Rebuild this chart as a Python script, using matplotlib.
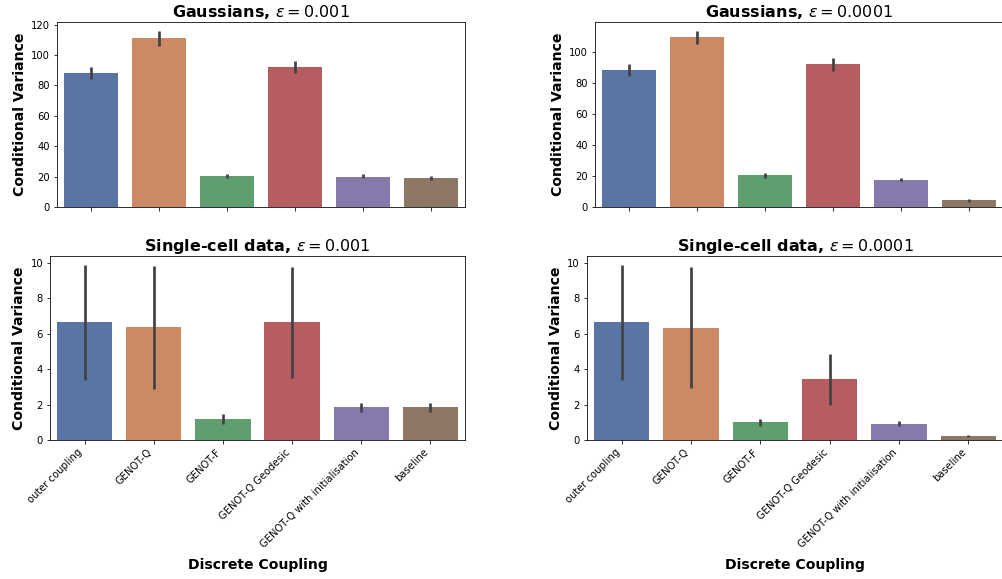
import matplotlib
matplotlib.use("Agg")
import matplotlib.pyplot as plt
import seaborn as sns

couplings = ["outer coupling", "GENOT-Q", "GENOT-F", "GENOT-Q Geodesic",
             "GENOT-Q with initialisation", "baseline"]

# mean conditional variance and the ends of the confidence intervals
gauss_3_mean = [88.5, 111.0, 20.5, 92.5, 20.0, 19.0]
gauss_3_lo = [84.5, 106.0, 19.0, 88.5, 18.8, 17.5]
gauss_3_hi = [92.5, 116.0, 21.5, 96.0, 21.5, 20.5]

gauss_4_mean = [88.5, 109.7, 20.5, 92.5, 17.5, 4.5]
gauss_4_lo = [84.5, 105.4, 19.0, 88.0, 16.5, 3.5]
gauss_4_hi = [92.5, 113.9, 22.0, 96.5, 18.5, 5.0]

cell_3_mean = [6.65, 6.4, 1.18, 6.65, 1.85, 1.85]
cell_3_lo = [3.4, 2.9, 0.9, 3.5, 1.6, 1.6]
cell_3_hi = [9.9, 9.85, 1.47, 9.8, 2.1, 2.1]

cell_4_mean = [6.65, 6.35, 1.02, 3.45, 0.93, 0.22]
cell_4_lo = [3.4, 2.95, 0.8, 2.0, 0.8, 0.15]
cell_4_hi = [9.9, 9.75, 1.2, 4.85, 1.05, 0.3]

colors = [sns.desaturate(c, 0.75) for c in sns.color_palette("deep", 6)]

W, H = 1002, 579
fig = plt.figure(figsize=(W / 72, H / 72), dpi=72)


def box(x0, y0, x1, y1):
    # pixel box (top-left origin) -> figure fraction rect
    return [x0 / W, 1 - y1 / H, (x1 - x0) / W, (y1 - y0) / H]


def barpanel(ax, mean, lo, hi, title, show_labels):
    xs = list(range(len(couplings)))
    ax.bar(xs, mean, width=0.8, color=colors)
    ax.vlines(xs, lo, hi, color="#424242", lw=2.7)
    ax.set_xlim(-0.5, len(couplings) - 0.5)
    ax.set_ylim(0, None)
    ax.set_xticks(xs)
    if show_labels:
        ax.set_xticklabels(couplings, rotation=45, ha="right")
        ax.set_xlabel("Discrete Coupling", fontsize=14, fontweight="bold",
                      labelpad=9)
    else:
        ax.set_xticklabels([])
    ax.set_ylabel("Conditional Variance", fontsize=14, fontweight="bold")
    ax.set_title(title, fontsize=16, fontweight="bold", pad=5)


ax1 = fig.add_axes(box(57, 22, 465, 207))
ax2 = fig.add_axes(box(595, 22, 1003, 207))
ax3 = fig.add_axes(box(50, 256, 465, 440))
ax4 = fig.add_axes(box(587, 256, 1003, 440))

barpanel(ax1, gauss_3_mean, gauss_3_lo, gauss_3_hi,
         r"Gaussians, $\epsilon = 0.001$", False)
barpanel(ax2, gauss_4_mean, gauss_4_lo, gauss_4_hi,
         r"Gaussians, $\epsilon = 0.0001$", False)
barpanel(ax3, cell_3_mean, cell_3_lo, cell_3_hi,
         r"Single-cell data, $\epsilon = 0.001$", True)
barpanel(ax4, cell_4_mean, cell_4_lo, cell_4_hi,
         r"Single-cell data, $\epsilon = 0.0001$", True)

fig.savefig("out.png", dpi=72)
